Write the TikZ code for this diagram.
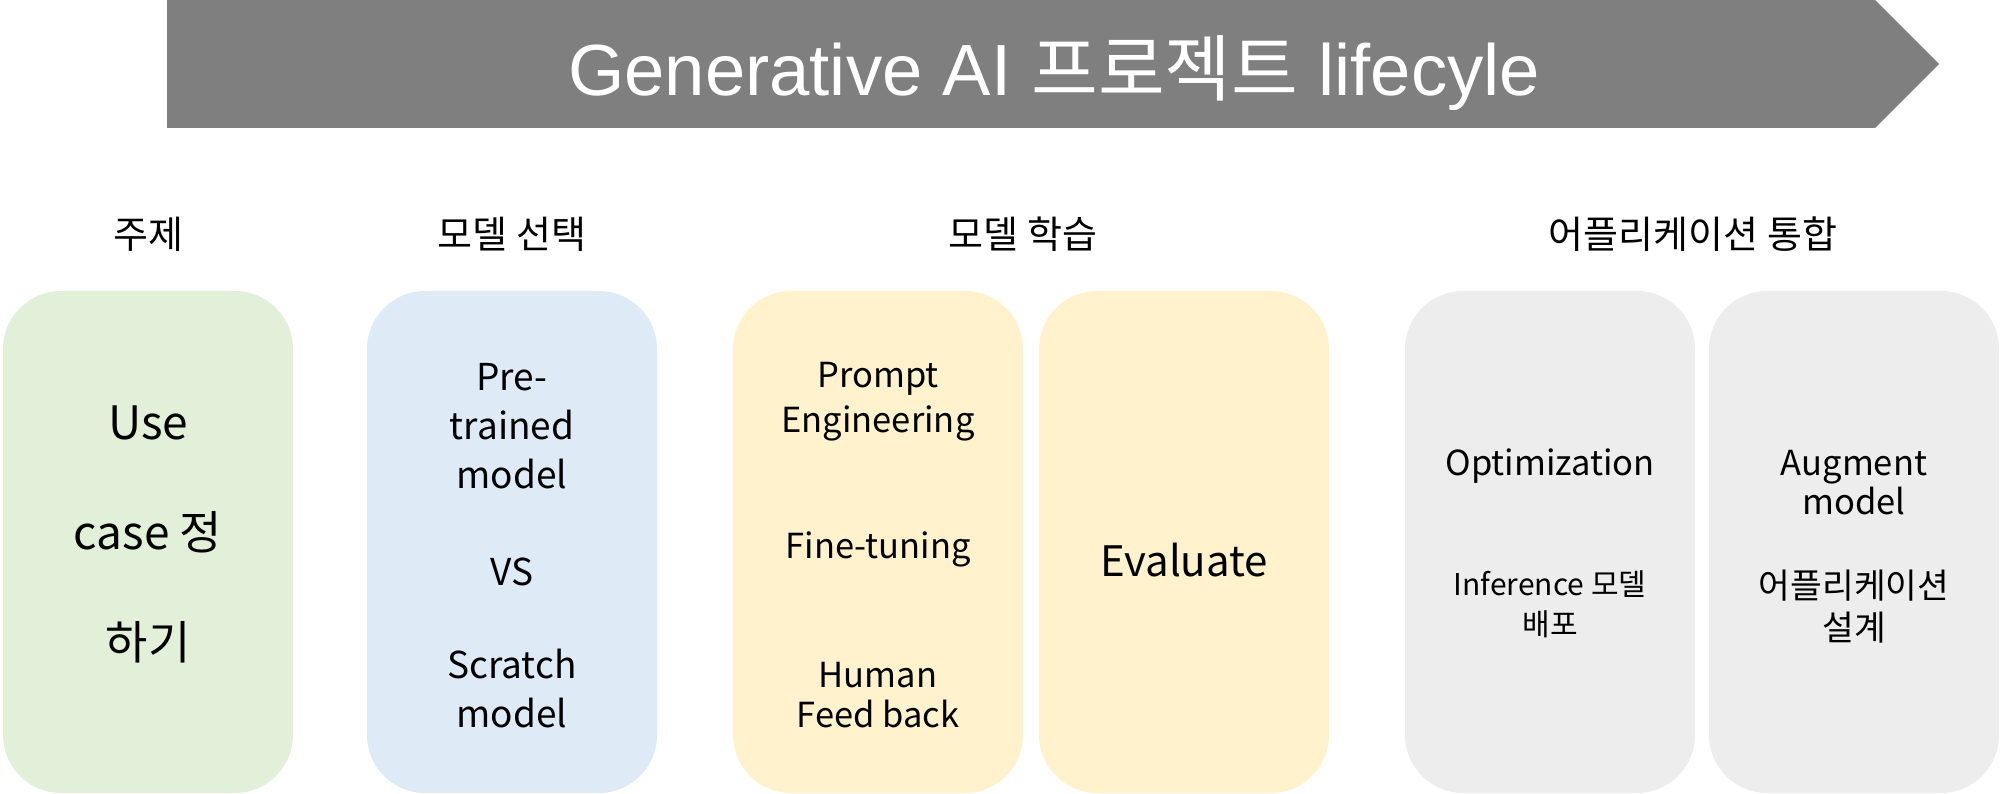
\documentclass[tikz,border=0pt]{standalone}
\usepackage{fontspec}
\setmainfont{Noto Sans CJK KR}
\newfontfamily\titlefont{Liberation Sans}
\newfontfamily\krfont{Noto Sans CJK KR}
\definecolor{arrowgray}{HTML}{7F7F7F}
\definecolor{boxgreen}{HTML}{E2F0D9}
\definecolor{boxblue}{HTML}{DEEBF7}
\definecolor{boxyellow}{HTML}{FFF2CC}
\definecolor{boxgray}{HTML}{EDEDED}
\begin{document}
\begin{tikzpicture}[x=1pt,y=-1pt,
  panel/.style={rectangle, rounded corners=58pt, draw=none, minimum width=290pt, minimum height=502pt, inner sep=0pt},
  lbl/.style={anchor=base, inner sep=0pt, text=black},
  head/.style={lbl, font=\fontsize{38pt}{46pt}\selectfont},
  big/.style={lbl, font=\fontsize{46pt}{56pt}\selectfont},
  mid/.style={lbl, font=\fontsize{37pt}{45pt}\selectfont},
  sml/.style={lbl, font=\fontsize{34.5pt}{40pt}\selectfont},
  tiny/.style={lbl, font=\fontsize{30pt}{38pt}\selectfont},
  eval/.style={lbl, font=\fontsize{42pt}{50pt}\selectfont}]
\useasboundingbox (0,0) rectangle (2000,794);
% banner arrow
\fill[arrowgray] (167,0) -- (1875,0) -- (1939,64) -- (1875,128) -- (167,128) -- cycle;
\node[lbl, text=white, font=\fontsize{72.5pt}{82pt}\selectfont] (title) at (1054,96)
  {{\titlefont Generative AI }{\krfont 프로젝트}{\titlefont\ lifecyle}};
% headings
\node[head] (h1) at (148,249) {주제};
\node[head] (h2) at (512,249) {모델 선택};
\node[head] (h3) at (1023,249) {모델 학습};
\node[head] (h4) at (1693,249) {어플리케이션 통합};
% panels
\node[panel, fill=boxgreen]  (p1) at (148,542) {};
\node[panel, fill=boxblue]   (p2) at (512,542) {};
\node[panel, fill=boxyellow] (p3) at (878,542) {};
\node[panel, fill=boxyellow] (p4) at (1184,542) {};
\node[panel, fill=boxgray]   (p5) at (1550,542) {};
\node[panel, fill=boxgray]   (p6) at (1854,542) {};
% panel 1
\node[big] (t1a) at (148,439) {Use};
\node[big] (t1b) at (148,549) {case 정};
\node[big] (t1c) at (148,659) {하기};
% panel 2
\node[mid] (t2a) at (512,390) {Pre-};
\node[mid] (t2b) at (512,439) {trained};
\node[mid] (t2c) at (512,488) {model};
\node[mid] (t2d) at (512,585) {VS};
\node[mid] (t2e) at (512,678) {Scratch};
\node[mid] (t2f) at (512,727) {model};
% panel 3
\node[sml] (t3a) at (878,387) {Prompt};
\node[sml] (t3b) at (878,432) {Engineering};
\node[sml] (t3c) at (878,558) {Fine-tuning};
\node[sml] (t3d) at (878,687) {Human};
\node[sml] (t3e) at (878,727) {Feed back};
% panel 4
\node[eval] (t4a) at (1184,576) {Evaluate};
% panel 5
\node[sml] (t5a) at (1550,475) {Optimization};
\node[tiny] (t5b) at (1550,595) {Inference 모델};
\node[tiny] (t5c) at (1550,635) {배포};
% panel 6
\node[sml] (t6a) at (1854,475) {Augment};
\node[sml] (t6b) at (1854,514) {model};
\node[sml] (t6c) at (1854,598) {어플리케이션};
\node[sml] (t6d) at (1854,640) {설계};
\end{tikzpicture}
\end{document}
